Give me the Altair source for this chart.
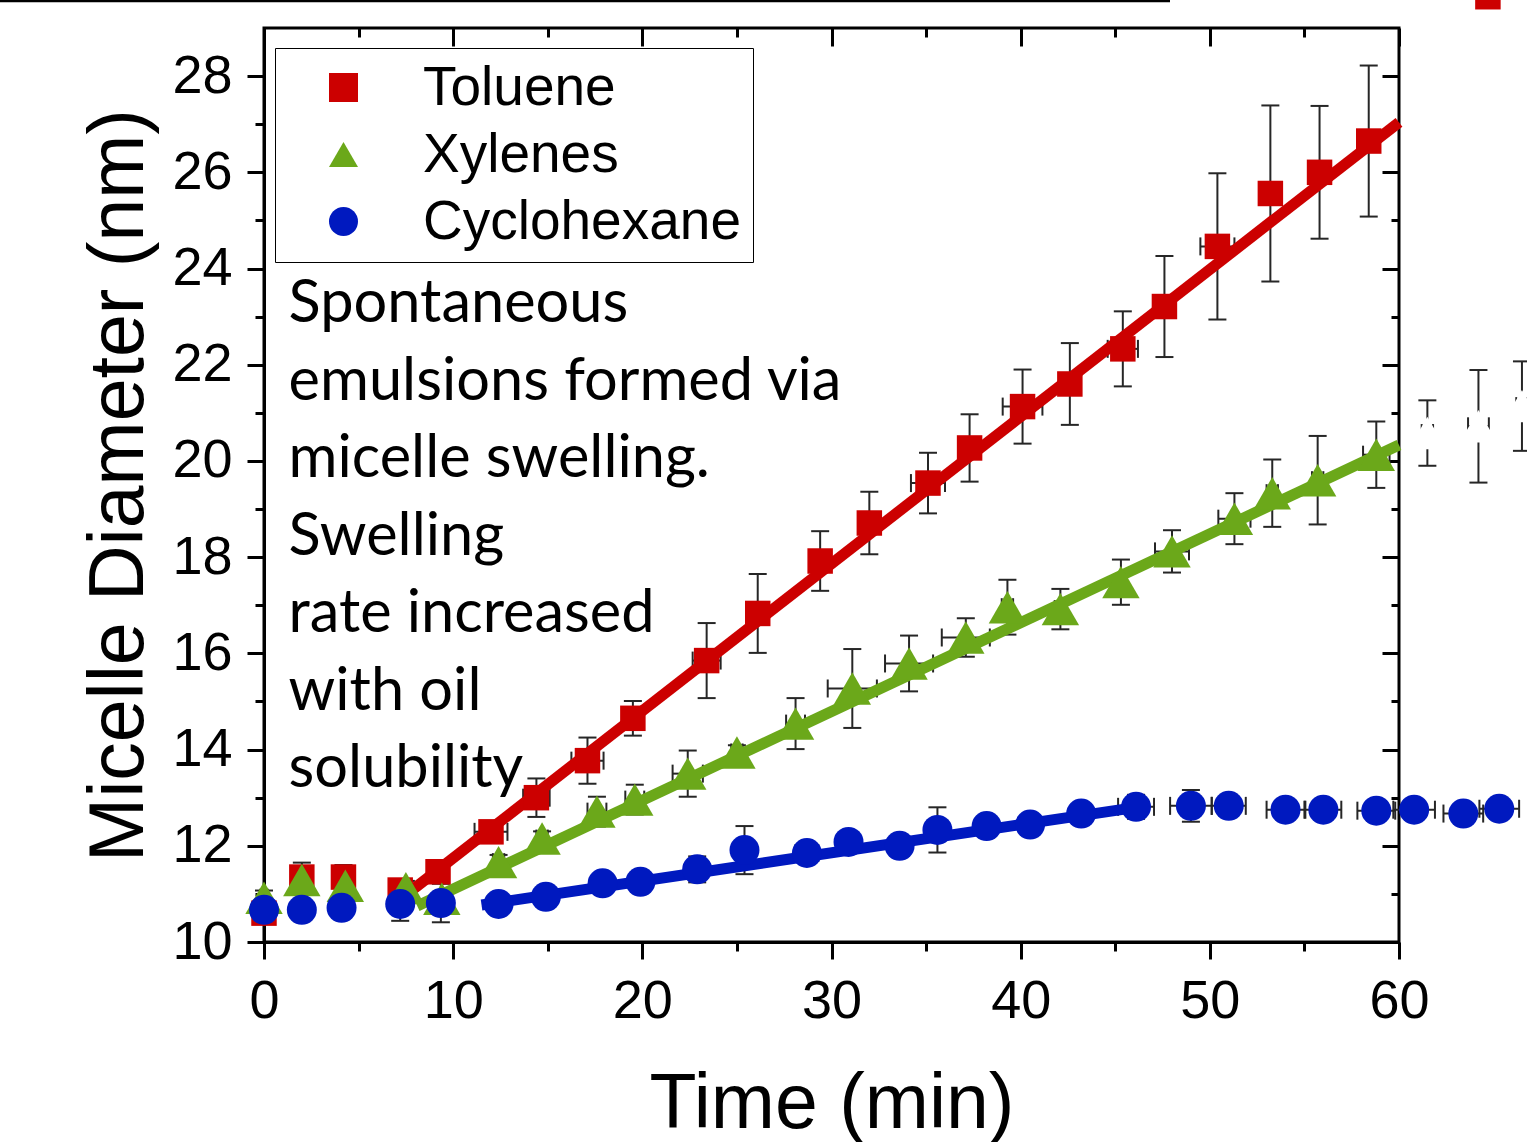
import altair as alt
import pandas as pd

# ---------------- data ----------------
SERIES = ["Toluene", "Xylenes", "Cyclohexane"]

tol_t = [0.0, 2.0, 4.2, 7.2, 9.2, 12.0, 14.4, 17.1, 19.5, 23.4, 26.1, 29.4, 32.0, 35.1, 37.3, 40.1, 42.6, 45.4, 47.6, 50.4, 53.2, 55.8, 58.4]
tol_d = [10.60, 11.35, 11.35, 11.08, 11.46, 12.29, 13.00, 13.77, 14.65, 15.85, 16.83, 17.92, 18.71, 19.54, 20.27, 21.13, 21.60, 22.33, 23.21, 24.46, 25.56, 26.00, 26.65]
tol_derr = [0.10, 0.30, 0.25, 0.20, 0.20, 0.20, 0.40, 0.48, 0.36, 0.78, 0.82, 0.62, 0.65, 0.63, 0.70, 0.77, 0.85, 0.78, 1.05, 1.52, 1.83, 1.38, 1.57]
tol_terr = [0.2, 0.3, 0.55, 0.3, 0.3, 0.87, 0.70, 0.85, 0.3, 0.74, 0.3, 0.3, 0.3, 0.9, 0.3, 1.05, 0.3, 0.8, 0.3, 0.9, 0.3, 0.3, 0.3]
tol_ext_t = [64.7]
tol_ext_d = [29.65]

xyl_t = [0.0, 2.0, 4.3, 7.5, 9.4, 12.4, 14.7, 17.6, 19.6, 22.4, 25.0, 28.1, 31.1, 34.1, 37.1, 39.3, 42.1, 45.3, 48.0, 51.3, 53.3, 55.7, 58.8]
xyl_d = [10.92, 11.29, 11.17, 11.12, 10.90, 11.66, 12.15, 12.71, 12.96, 13.50, 13.94, 14.54, 15.27, 15.79, 16.33, 16.96, 16.92, 17.48, 18.12, 18.80, 19.33, 19.60, 20.13]
xyl_derr = [0.15, 0.15, 0.15, 0.15, 0.15, 0.15, 0.15, 0.31, 0.31, 0.48, 0.15, 0.53, 0.82, 0.58, 0.40, 0.57, 0.42, 0.47, 0.44, 0.53, 0.70, 0.92, 0.69]
xyl_terr = [0.2, 0.2, 0.2, 0.2, 0.2, 0.3, 0.3, 0.5, 0.5, 0.8, 0.3, 0.5, 1.3, 1.27, 1.27, 0.3, 0.3, 0.3, 0.9, 0.85, 0.3, 0.3, 0.7]
xyl_ext_t = [61.5, 64.2, 66.5]
xyl_ext_d = [20.58, 20.72, 21.14]
xyl_ext_derr = [0.68, 1.17, 0.93]
xyl_ext_terr = [0.3, 0.55, 0.3]

cyc_t = [0.0, 2.0, 4.1, 7.2, 9.35, 12.4, 14.9, 17.9, 19.9, 22.9, 25.4, 28.7, 30.9, 33.6, 35.6, 38.2, 40.5, 43.2, 46.1, 49.0, 51.0, 54.0, 56.0, 58.8, 60.8, 63.4, 65.3]
cyc_d = [10.67, 10.67, 10.71, 10.79, 10.81, 10.79, 10.94, 11.22, 11.25, 11.51, 11.91, 11.85, 12.08, 12.00, 12.33, 12.41, 12.44, 12.67, 12.81, 12.83, 12.83, 12.75, 12.75, 12.73, 12.75, 12.67, 12.77]
cyc_derr = [0.1, 0.1, 0.1, 0.35, 0.4, 0.1, 0.1, 0.1, 0.15, 0.27, 0.5, 0.2, 0.2, 0.15, 0.47, 0.15, 0.1, 0.1, 0.25, 0.33, 0.2, 0.1, 0.1, 0.1, 0.1, 0.1, 0.1]
cyc_terr = [0.2, 0.2, 0.2, 0.2, 0.2, 0.3, 0.3, 0.3, 0.3, 0.5, 0.3, 0.6, 0.3, 0.3, 0.5, 0.3, 0.3, 0.3, 0.95, 1.1, 0.9, 1.0, 0.95, 1.0, 1.1, 1.05, 1.05]

# linear fits (end points)
tol_fit_t = [7.5, 60.0]
tol_fit_d = [10.98, 27.04]
xyl_fit_t = [8.1, 60.0]
xyl_fit_d = [10.75, 20.33]
cyc_fit_t = [11.5, 46.3]
cyc_fit_d = [10.77, 12.81]

X_MAJOR = [0, 10, 20, 30, 40, 50, 60]
X_MINOR = [5, 15, 25, 35, 45, 55]
Y_MAJOR = [10, 12, 14, 16, 18, 20, 22, 24, 26, 28]
Y_MINOR = [11, 13, 15, 17, 19, 21, 23, 25, 27]

NOTE_LINES = ["Spontaneous", "emulsions formed via", "micelle swelling.",
              "Swelling", "rate increased", "with oil", "solubility"]
NOTE_T = [1.3]
NOTE_D = [22.88]

# ---------------- styles ----------------
COLORS = ["#CC0000", "#6BA81A", "#0019BF"]
SHAPES = ["square", "triangle-up", "circle"]
SIZES = [650, 1400, 900]
EB = "#262626"
FONT = "Liberation Sans"

W, H = 1135, 914
PAD = {"left": 264, "top": 28, "right": 128, "bottom": 200}


def table(name, t, d, derr=None, terr=None):
    df = pd.DataFrame({"t": t, "d": d})
    df["series"] = name
    if derr is not None:
        df["d_lo"] = df["d"] - pd.Series(derr)
        df["d_hi"] = df["d"] + pd.Series(derr)
        df["t_lo"] = df["t"] - pd.Series(terr)
        df["t_hi"] = df["t"] + pd.Series(terr)
    return df


pts = pd.concat([
    table("Toluene", tol_t, tol_d), table("Toluene", tol_ext_t, tol_ext_d),
    table("Xylenes", xyl_t, xyl_d),
    table("Cyclohexane", cyc_t, cyc_d),
])
err = pd.concat([
    table("Toluene", tol_t, tol_d, tol_derr, tol_terr),
    table("Xylenes", xyl_t, xyl_d, xyl_derr, xyl_terr),
    table("Xylenes", xyl_ext_t, xyl_ext_d, xyl_ext_derr, xyl_ext_terr),
    table("Cyclohexane", cyc_t, cyc_d, cyc_derr, cyc_terr),
])
ext = table("Xylenes", xyl_ext_t, xyl_ext_d)
fits = [
    table("Toluene", tol_fit_t, tol_fit_d),
    table("Xylenes", xyl_fit_t, xyl_fit_d),
    table("Cyclohexane", cyc_fit_t, cyc_fit_d),
]
note = pd.DataFrame({"t": NOTE_T, "d": NOTE_D, "txt": ["\n".join(NOTE_LINES)]})

xs = alt.Scale(domain=[0, 60], nice=False, zero=False)
ys = alt.Scale(domain=[10, 29], nice=False, zero=False)
cs = alt.Scale(domain=SERIES, range=COLORS)
ss = alt.Scale(domain=SERIES, range=SHAPES)

size_expr = " : ".join(
    [f"datum.series === '{n}' ? {s}" for n, s in zip(SERIES[:-1], SIZES[:-1])] + [str(SIZES[-1])]
)


def X(f):
    return alt.X(f, type="quantitative", scale=xs, axis=None)


def Y(f):
    return alt.Y(f, type="quantitative", scale=ys, axis=None)


leg = alt.Legend(
    title=None, orient="none", legendX=11, legendY=20, direction="vertical",
    padding=12, symbolOffset=29, labelOffset=52, rowPadding=11,
    labelFontSize=55, labelFont=FONT, labelColor="black", labelLimit=1000,
    symbolSize=841, symbolStrokeWidth=0, strokeColor="black", fillColor="white",
)

layers = []

# error bars
layers.append(alt.Chart(err).mark_rule(color=EB, strokeWidth=2).encode(
    x=X("t"), y=Y("d_lo"), y2="d_hi"))
layers.append(alt.Chart(err).transform_fold(["d_lo", "d_hi"], as_=["k", "v"]).mark_tick(
    orient="horizontal", size=18, thickness=2, color=EB, opacity=1).encode(
    x=X("t"), y=Y("v")))
layers.append(alt.Chart(err).mark_rule(color=EB, strokeWidth=2).encode(
    x=X("t_lo"), x2="t_hi", y=Y("d")))
layers.append(alt.Chart(err).transform_fold(["t_lo", "t_hi"], as_=["k", "v"]).mark_tick(
    orient="vertical", size=18, thickness=2, color=EB, opacity=1).encode(
    x=X("v"), y=Y("d")))
# hidden markers beyond the axis (white knock-outs)
layers.append(alt.Chart(ext).mark_point(shape="triangle-up", filled=True, color="white",
                                        size=SIZES[1], opacity=1).encode(x=X("t"), y=Y("d")))

# fit lines, one layer per series
for df, col in zip(fits, COLORS):
    layers.append(alt.Chart(df).mark_line(color=col, strokeWidth=11, strokeCap="butt").encode(
        x=X("t"), y=Y("d")))

# markers
layers.append(alt.Chart(pts).transform_calculate(msize=size_expr).mark_point(
    filled=True, opacity=1, strokeWidth=0).encode(
    x=X("t"), y=Y("d"),
    color=alt.Color("series:N", scale=cs, legend=leg),
    shape=alt.Shape("series:N", scale=ss, legend=leg),
    size=alt.Size("msize:Q", scale=None, legend=None)))

# annotation
layers.append(alt.Chart(note).mark_text(
    align="left", baseline="alphabetic", font="Lato", fontSize=59.5, lineHeight=77.5,
    lineBreak="\n", color="black").encode(x=X("t"), y=Y("d"), text="txt:N"))

# thin line at the top edge of the picture
layers.append(alt.Chart(pd.DataFrame({"a": [0]})).mark_rule(color="black", strokeWidth=2.5).encode(
    x=alt.value(-PAD["left"]), x2=alt.value(906), y=alt.value(-27)))

# axes
adf = pd.DataFrame({"t": [0, 60], "d": [10, 29]})
common = dict(grid=False, tickColor="black", tickWidth=3, domainColor="black", domainWidth=3)


def xaxis(**kw):
    return alt.Chart(adf).mark_point(opacity=0).encode(
        x=alt.X("t", type="quantitative", scale=xs, axis=alt.Axis(**common, **kw)))


def yaxis(**kw):
    return alt.Chart(adf).mark_point(opacity=0).encode(
        y=alt.Y("d", type="quantitative", scale=ys, axis=alt.Axis(**common, **kw)))


layers.append(xaxis(orient="bottom", values=X_MAJOR, tickSize=17, domain=True,
                    labelFontSize=54, labelFont=FONT, labelColor="black", labelPadding=15,
                    labelFlush=False, labelOverlap=False, format="d",
                    title="Time (min)", titleFontSize=77, titleFont=FONT, titleFontWeight="normal",
                    titleColor="black", titleBaseline="alphabetic", titleY=185))
layers.append(xaxis(orient="bottom", values=X_MINOR, tickSize=9, domain=False, labels=False, title=None))
layers.append(xaxis(orient="top", values=X_MAJOR, tickSize=18, offset=-18, domain=False, labels=False, title=None))
layers.append(xaxis(orient="top", values=X_MINOR, tickSize=9, offset=-9, domain=False, labels=False, title=None))

layers.append(yaxis(orient="left", values=Y_MAJOR, tickSize=17, domain=True,
                    labelFontSize=54, labelFont=FONT, labelColor="black", labelPadding=15,
                    labelFlush=False, labelOverlap=False, format="d",
                    title="Micelle Diameter (nm)", titleFontSize=77, titleFont=FONT,
                    titleFontWeight="normal", titleColor="black", titleAngle=270,
                    titleBaseline="alphabetic", titleAlign="center", titleX=-122))
layers.append(yaxis(orient="left", values=Y_MINOR, tickSize=9, domain=False, labels=False, title=None))
layers.append(yaxis(orient="right", values=Y_MAJOR, tickSize=17, offset=-17, domain=False, labels=False, title=None))
layers.append(yaxis(orient="right", values=Y_MINOR, tickSize=8, offset=-8, domain=False, labels=False, title=None))

chart = alt.layer(*layers).properties(
    width=W, height=H, padding=PAD, autosize=alt.AutoSizeParams(type="none"),
    background="white",
).resolve_axis(x="independent", y="independent").configure_view(
    stroke="black", strokeWidth=3
)

chart.save("out.html", embed_options={"renderer": "svg", "actions": False})
